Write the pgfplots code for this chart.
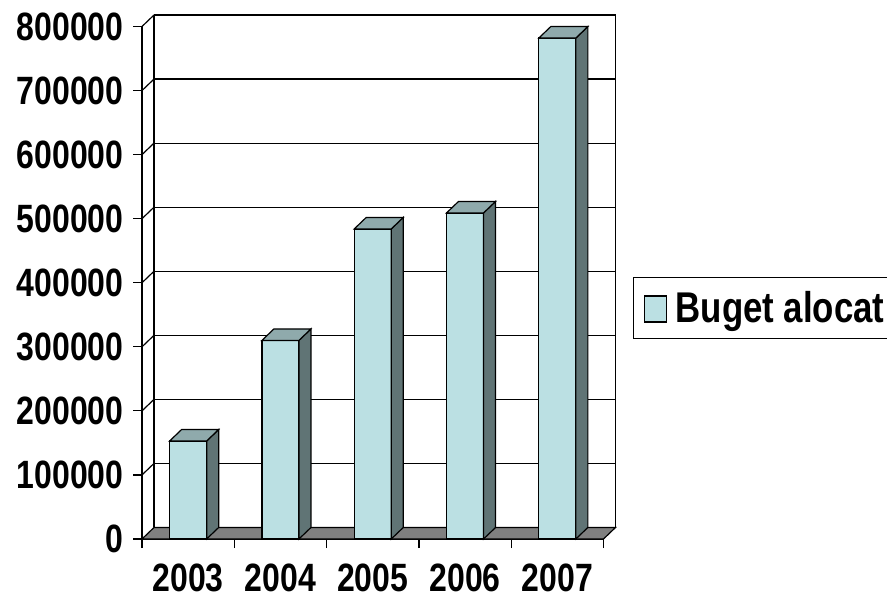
\documentclass[border=0pt]{standalone}
\usepackage{pgfplots}
\usepackage{pgfplotstable}
\pgfplotsset{compat=1.18}
\usepackage{fontspec}
\setmainfont{Liberation Sans}[FakeStretch=0.81]
\definecolor{barfront}{HTML}{BBE0E3}
\definecolor{barside}{HTML}{607475}
\definecolor{bartop}{HTML}{8FAAAC}
\definecolor{floorgray}{HTML}{808080}
\newdimen\barH
\pgfdeclareplotmark{bar3d}{%
  \pgfsetlinewidth{1.2bp}%
  \pgfsetstrokecolor{black}%
  \pgfsetfillcolor{barside}%
  \pgfpathmoveto{\pgfpoint{18.5bp}{0bp}}%
  \pgfpathlineto{\pgfpoint{30.5bp}{11.5bp}}%
  \pgfpathlineto{\pgfpoint{30.5bp}{11.5bp-\barH}}%
  \pgfpathlineto{\pgfpoint{18.5bp}{-\barH}}%
  \pgfpathclose
  \pgfusepath{fill,stroke}%
  \pgfsetfillcolor{bartop}%
  \pgfpathmoveto{\pgfpoint{-18.5bp}{0bp}}%
  \pgfpathlineto{\pgfpoint{18.5bp}{0bp}}%
  \pgfpathlineto{\pgfpoint{30.5bp}{11.5bp}}%
  \pgfpathlineto{\pgfpoint{-6.5bp}{11.5bp}}%
  \pgfpathclose
  \pgfusepath{fill,stroke}%
}
\pgfplotstableread{
x v
0 153000
1 310000
2 484000
3 509000
4 782000
}\budget
\begin{document}
\begin{tikzpicture}
\useasboundingbox (0,0) rectangle (887bp,599bp);
\begin{axis}[
  at={(142bp,60bp)}, anchor=south west,
  scale only axis, width=461.5bp, height=512.5bp,
  xmin=-0.5, xmax=4.5, ymin=0, ymax=800000,
  clip=false,
  axis x line*=bottom, axis y line*=left,
  axis line style={-, line width=1.2bp, black},
  xtick={0,1,2,3,4}, xticklabels={2003,2004,2005,2006,2007},
  minor xtick={-0.5,0.5,1.5,2.5,3.5,4.5},
  ytick={0,100000,200000,300000,400000,500000,600000,700000,800000},
  yticklabels={0,100000,200000,300000,400000,500000,600000,700000,800000},
  scaled y ticks=false,
  tick align=outside,
  major tick length=9bp, minor tick length=9bp,
  tick style={black, line width=1.2bp},
  major x tick style={draw=none},
  ymajorgrids,
  major grid style={black, line width=1.2bp, xshift=12bp, yshift=11.5bp},
  /pgf/number format/assume math mode=true,
  tick label style={font=\fontsize{39.5bp}{44bp}\selectfont\bfseries},
  xticklabel style={yshift=-15bp, inner sep=1bp},
  yticklabel style={xshift=-6bp},
  legend style={at={(1.0639,0.5112)}, anchor=north west, draw=black, line width=1.2bp,
    font=\fontsize{43bp}{47bp}\selectfont\bfseries, inner xsep=4bp, inner ysep=12bp},
]
\fill[floorgray, draw=black, line width=1.2bp] (axis cs:-0.5,0) -- (axis cs:4.5,0)
  -- ([shift={(12bp,11.5bp)}]axis cs:4.5,0) -- ([shift={(12bp,11.5bp)}]axis cs:-0.5,0) -- cycle;
\draw[line width=1.2bp] ([shift={(12bp,11.5bp)}]axis cs:-0.5,0) -- ([shift={(12bp,11.5bp)}]axis cs:-0.5,800000);
\draw[line width=1.2bp] ([shift={(12bp,11.5bp)}]axis cs:4.5,0) -- ([shift={(12bp,11.5bp)}]axis cs:4.5,800000);
\pgfplotsinvokeforeach{100000,200000,300000,400000,500000,600000,700000,800000}{
  \draw[line width=1.2bp] (axis cs:-0.5,#1) -- ++(12bp,11.5bp);
}
\addplot[ybar, bar width=37bp, fill=barfront, draw=black, line width=1.2bp,
  legend image code/.code={\path[draw=none, fill=none] (0bp,0bp) -- (36bp,0bp);
    \draw[line width=1.2bp, draw=black, fill=barfront] (7bp,-14bp) rectangle (29bp,12bp);}]
  table[x=x, y=v] {\budget};
\addlegendentry{Buget alocat}
\addplot[scatter, only marks, mark=bar3d, forget plot,
  point meta=y, point meta min=0, point meta max=800000,
  scatter/@pre marker code/.append code={%
    \pgfmathsetlength\barH{\pgfplotspointmetatransformed*0.5125bp}\global\barH=\barH}]
  table[x=x, y=v] {\budget};
\end{axis}
\end{tikzpicture}
\end{document}
